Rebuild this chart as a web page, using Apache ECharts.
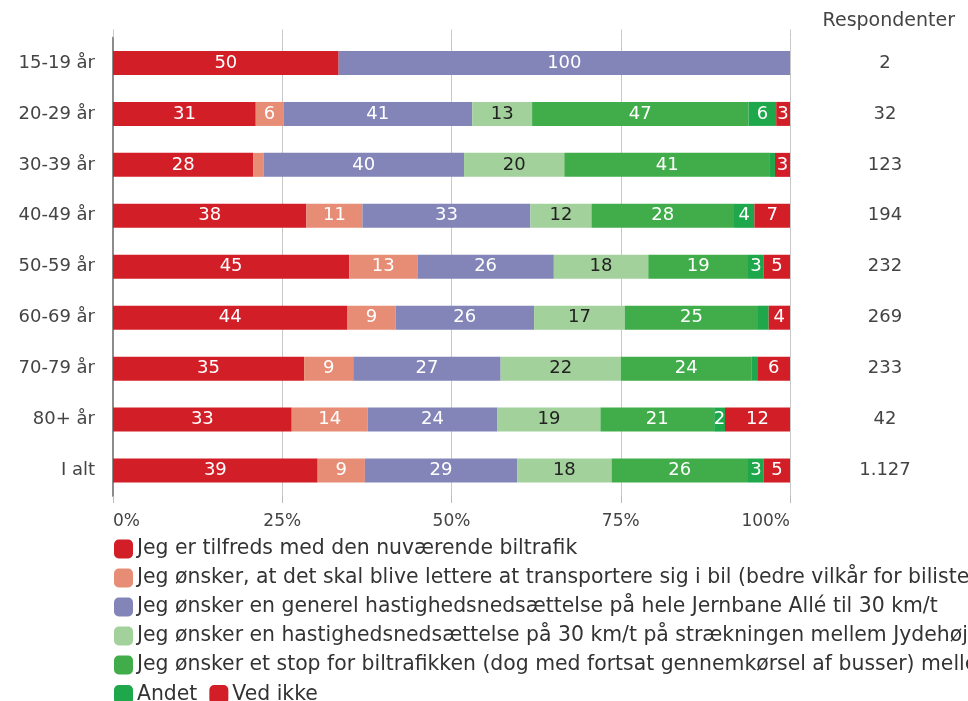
<!DOCTYPE html>
<html>
<head>
<meta charset="utf-8">
<script src="https://cdn.jsdelivr.net/npm/echarts@6/dist/echarts.min.js"></script>
<style>
  html, body { margin: 0; padding: 0; background: #fff; }
  #main { width: 968px; height: 701px; }
</style>
</head>
<body>
<div id="main"></div>
<script>
var categories = ["15-19 år", "20-29 år", "30-39 år", "40-49 år", "50-59 år", "60-69 år", "70-79 år", "80+ år", "I alt"];
var respondents = ["2", "32", "123", "194", "232", "269", "233", "42", "1.127"];

var seriesNames = [
  "Jeg er tilfreds med den nuværende biltrafik",
  "Jeg ønsker, at det skal blive lettere at transportere sig i bil (bedre vilkår for bilister)",
  "Jeg ønsker en generel hastighedsnedsættelse på hele Jernbane Allé til 30 km/t",
  "Jeg ønsker en hastighedsnedsættelse på 30 km/t på strækningen mellem Jydehøj og Bondebjerggård",
  "Jeg ønsker et stop for biltrafikken (dog med fortsat gennemkørsel af busser) mellem Jydehøj og Bondebjerggård",
  "Andet",
  "Ved ikke"
];
// values per series, one per category
var tilfreds   = [50, 31, 28, 38, 45, 44, 35, 33, 39];
var lettere    = [0, 6, 2, 11, 13, 9, 9, 14, 9];
var generel    = [100, 41, 40, 33, 26, 26, 27, 24, 29];
var straekning = [0, 13, 20, 12, 18, 17, 22, 19, 18];
var stop       = [0, 47, 41, 28, 19, 25, 24, 21, 26];
var andet      = [0, 6, 1, 4, 3, 2, 1, 2, 3];
var vedIkke    = [0, 3, 3, 7, 5, 4, 6, 12, 5];

var colors = ["#d21f27", "#e78d76", "#8385b9", "#a2d19b", "#40ad4a", "#1ea74b", "#d21f27"];
var labelColors = ["#fff", "#fff", "#fff", "#222", "#fff", "#fff", "#fff"];
var allValues = [tilfreds, lettere, generel, straekning, stop, andet, vedIkke];

var totals = categories.map(function (c, i) {
  return allValues.reduce(function (s, arr) { return s + arr[i]; }, 0);
});

var series = allValues.map(function (arr, k) {
  return {
    name: seriesNames[k],
    type: "bar",
    stack: "all",
    barWidth: 24,
    itemStyle: { color: colors[k] },
    label: {
      show: true,
      color: labelColors[k],
      fontSize: 18,
      fontFamily: "DejaVu Sans",
      formatter: function (p) {
        var raw = arr[p.dataIndex];
        // small segments are left unlabeled
        return raw / totals[p.dataIndex] > 0.0158 ? raw : "";
      }
    },
    data: arr.map(function (v, i) { return v / totals[i] * 100; })
  };
});

var legendText = { fontSize: 20.4, lineHeight: 19, color: "#333", fontFamily: "DejaVu Sans", padding: [0, 0, 0, -1] };

var myChart = echarts.init(document.getElementById("main"));
myChart.setOption({
  animation: false,
  textStyle: { fontFamily: "DejaVu Sans" },
  grid: { left: 113, right: 178, top: 37.5, bottom: 205 },
  title: {
    text: "Respondenter",
    right: 8,
    top: 7,
    textStyle: { fontSize: 19, fontWeight: "normal", color: "#444", fontFamily: "DejaVu Sans" }
  },
  legend: [
    {
      data: seriesNames.slice(0, 5),
      orient: "vertical",
      left: 114,
      top: 539,
      padding: 0,
      itemWidth: 19,
      itemHeight: 19,
      itemGap: 9,
      icon: "roundRect",
      textStyle: legendText
    },
    {
      data: seriesNames.slice(5),
      orient: "horizontal",
      left: 114,
      top: 684.5,
      padding: 0,
      itemWidth: 19,
      itemHeight: 19,
      itemGap: 12,
      icon: "roundRect",
      textStyle: legendText
    }
  ],
  xAxis: [
    {
      type: "value",
      min: 0,
      max: 100,
      interval: 25,
      position: "bottom",
      axisLine: { show: false },
      axisTick: { show: true, length: 7, lineStyle: { color: "#bbb" } },
      splitLine: { show: true, lineStyle: { color: "#c8c8c8", width: 1 } },
      axisLabel: {
        formatter: "{value}%",
        fontSize: 17,
        color: "#444",
        margin: 17,
        alignMinLabel: "left",
        alignMaxLabel: "right"
      }
    },
    {
      type: "value",
      min: 0,
      max: 100,
      interval: 25,
      position: "top",
      axisLine: { show: false },
      axisTick: { show: true, length: 8, lineStyle: { color: "#c8c8c8" } },
      splitLine: { show: false },
      axisLabel: { show: false }
    }
  ],
  yAxis: [
    {
      type: "category",
      inverse: true,
      data: categories,
      axisLine: { show: true, lineStyle: { color: "#8c8c8c", width: 2 } },
      axisTick: { show: false },
      axisLabel: { fontSize: 18, color: "#444", margin: 18 }
    },
    {
      type: "category",
      inverse: true,
      position: "right",
      data: respondents,
      axisLine: { show: false },
      axisTick: { show: false },
      axisLabel: { fontSize: 18, color: "#444", align: "center", margin: 95 }
    }
  ],
  series: series
});
window.onresize = function () {
  myChart.resize();
};
</script>
</body>
</html>
